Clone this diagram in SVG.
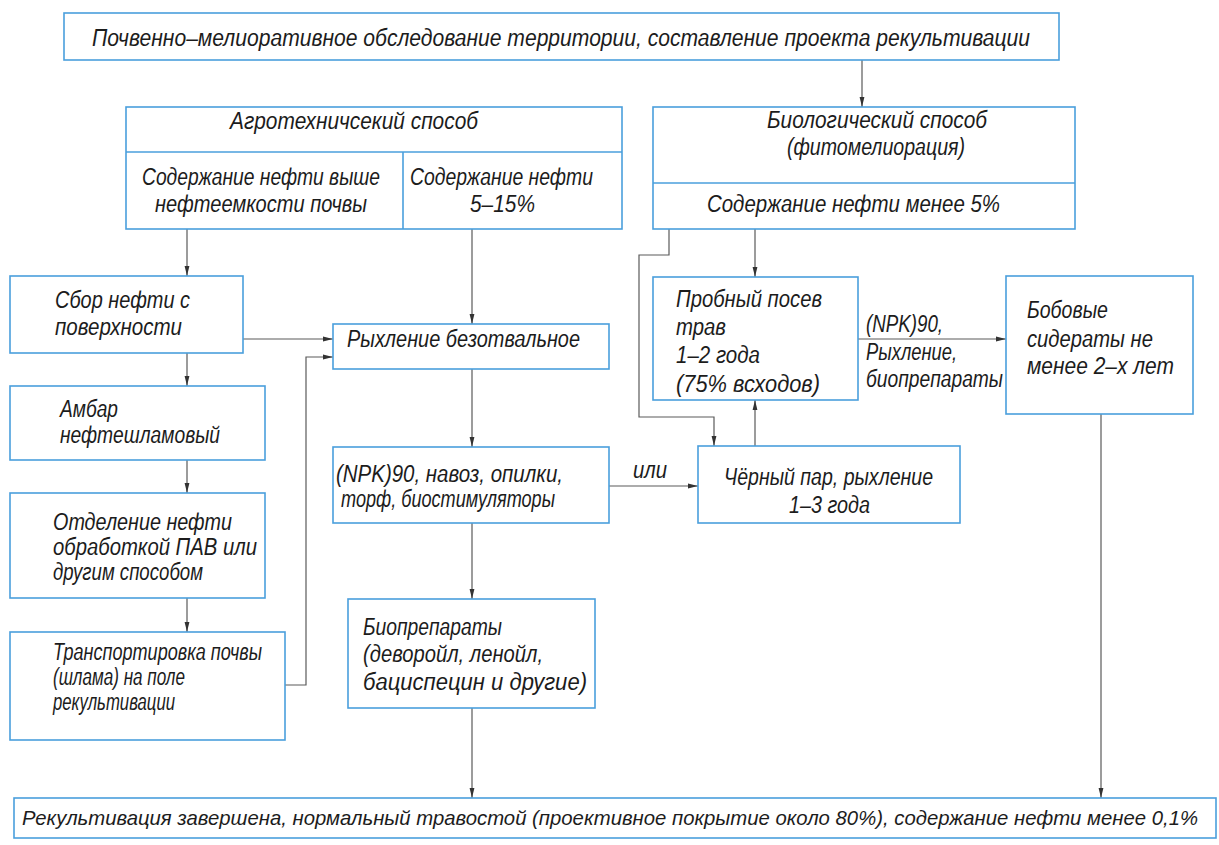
<svg xmlns="http://www.w3.org/2000/svg" width="1219" height="845" viewBox="0 0 1219 845">
<style>
.box{fill:#ffffff;stroke:#4a9fdc;stroke-width:1.6}
.div{stroke:#4a9fdc;stroke-width:1.6;fill:none}
.t{font-family:"Liberation Sans",Arial,sans-serif;font-style:italic;font-size:23px;fill:#1c1c1c}
.s{font-size:21px}
.c{stroke:#5a5a5a;stroke-width:1.2;fill:none}
.a{marker-end:url(#arr)}
</style>
<defs>
<marker id="arr" viewBox="0 0 10 6" refX="10" refY="3" markerWidth="10" markerHeight="6" markerUnits="userSpaceOnUse" orient="auto">
<path d="M0,0.6 L10,3 L0,5.4 Z" fill="#333"/>
</marker>
</defs>
<rect width="1219" height="845" fill="#ffffff"/>

<g id="connectors">
<line class="c a" x1="862" y1="60" x2="862" y2="107"/>
<line class="c a" x1="187" y1="229" x2="187" y2="276"/>
<line class="c a" x1="472" y1="229" x2="472" y2="324"/>
<line class="c a" x1="243" y1="339" x2="333" y2="339"/>
<line class="c a" x1="187" y1="353" x2="187" y2="386"/>
<line class="c a" x1="187" y1="460" x2="187" y2="493"/>
<line class="c a" x1="187" y1="598" x2="187" y2="632"/>
<polyline class="c a" points="285,685 306,685 306,357 333,357"/>
<line class="c a" x1="472" y1="369" x2="472" y2="447"/>
<line class="c a" x1="609" y1="486" x2="698" y2="486"/>
<line class="c a" x1="472" y1="523" x2="472" y2="599"/>
<line class="c a" x1="472" y1="708" x2="472" y2="798"/>
<line class="c a" x1="755" y1="229" x2="755" y2="277"/>
<polyline class="c a" points="669,229 669,255 639,255 639,417 714,417 714,446"/>
<line class="c a" x1="755" y1="446" x2="755" y2="400"/>
<line class="c a" x1="858" y1="339" x2="1006" y2="339"/>
<line class="c a" x1="1101" y1="414" x2="1101" y2="798"/>
<text class="t" x="633" y="478" textLength="34" lengthAdjust="spacingAndGlyphs">или</text>
<text class="t" x="866" y="332" textLength="77" lengthAdjust="spacingAndGlyphs">(NPK)90,</text>
<text class="t" x="866" y="360" textLength="91" lengthAdjust="spacingAndGlyphs">Рыхление,</text>
<text class="t" x="866" y="387" textLength="137" lengthAdjust="spacingAndGlyphs">биопрепараты</text>
</g>

<g id="top">
<rect class="box" x="64" y="13" width="995" height="47"/>
<text class="t" x="92" y="46" textLength="938" lengthAdjust="spacingAndGlyphs">Почвенно–мелиоративное обследование территории, составление проекта рекультивации</text>
</g>

<g id="agro">
<rect class="box" x="126" y="107" width="496" height="122"/>
<line class="div" x1="126" y1="152" x2="622" y2="152"/>
<line class="div" x1="403" y1="152" x2="403" y2="229"/>
<text class="t" x="230" y="129" textLength="248" lengthAdjust="spacingAndGlyphs">Агротехничсекий способ</text>
<text class="t" x="142" y="185" textLength="238" lengthAdjust="spacingAndGlyphs">Содержание нефти выше</text>
<text class="t" x="155" y="212" textLength="212" lengthAdjust="spacingAndGlyphs">нефтеемкости почвы</text>
<text class="t" x="410" y="185" textLength="183" lengthAdjust="spacingAndGlyphs">Содержание нефти</text>
<text class="t" x="470" y="212" textLength="65" lengthAdjust="spacingAndGlyphs">5–15%</text>
</g>

<g id="bio">
<rect class="box" x="653" y="107" width="422" height="122"/>
<line class="div" x1="653" y1="183" x2="1075" y2="183"/>
<text class="t" x="767" y="128" textLength="220" lengthAdjust="spacingAndGlyphs">Биологический способ</text>
<text class="t" x="787" y="155" textLength="178" lengthAdjust="spacingAndGlyphs">(фитомелиорация)</text>
<text class="t" x="707" y="212" textLength="293" lengthAdjust="spacingAndGlyphs">Содержание нефти менее 5%</text>
</g>

<g id="sbor">
<rect class="box" x="10" y="276" width="233" height="77"/>
<text class="t" x="55" y="308" textLength="135" lengthAdjust="spacingAndGlyphs">Сбор нефти с</text>
<text class="t" x="55" y="335" textLength="127" lengthAdjust="spacingAndGlyphs">поверхности</text>
</g>

<g id="ambar">
<rect class="box" x="10" y="386" width="255" height="74"/>
<text class="t" x="60" y="417" textLength="58" lengthAdjust="spacingAndGlyphs">Амбар</text>
<text class="t" x="60" y="443" textLength="160" lengthAdjust="spacingAndGlyphs">нефтешламовый</text>
</g>

<g id="otdelenie">
<rect class="box" x="10" y="493" width="255" height="105"/>
<text class="t" x="53" y="530" textLength="179" lengthAdjust="spacingAndGlyphs">Отделение нефти</text>
<text class="t" x="53" y="555" textLength="204" lengthAdjust="spacingAndGlyphs">обработкой ПАВ или</text>
<text class="t" x="53" y="580" textLength="150" lengthAdjust="spacingAndGlyphs">другим способом</text>
</g>

<g id="transport">
<rect class="box" x="10" y="632" width="275" height="108"/>
<text class="t" x="53" y="660" textLength="209" lengthAdjust="spacingAndGlyphs">Транспортировка почвы</text>
<text class="t" x="53" y="685" textLength="132" lengthAdjust="spacingAndGlyphs">(шлама) на поле</text>
<text class="t" x="53" y="710" textLength="122" lengthAdjust="spacingAndGlyphs">рекультивации</text>
</g>

<g id="ryhlenie">
<rect class="box" x="333" y="324" width="276" height="45"/>
<text class="t" x="347" y="347" textLength="233" lengthAdjust="spacingAndGlyphs">Рыхление безотвальное</text>
</g>

<g id="npk">
<rect class="box" x="333" y="447" width="276" height="76"/>
<text class="t" x="336" y="482" textLength="227" lengthAdjust="spacingAndGlyphs">(NPK)90, навоз, опилки,</text>
<text class="t" x="341" y="507" textLength="214" lengthAdjust="spacingAndGlyphs">торф, биостимуляторы</text>
</g>

<g id="biopreparaty">
<rect class="box" x="348" y="599" width="247" height="109"/>
<text class="t" x="363" y="635" textLength="139" lengthAdjust="spacingAndGlyphs">Биопрепараты</text>
<text class="t" x="363" y="662" textLength="180" lengthAdjust="spacingAndGlyphs">(деворойл, ленойл,</text>
<text class="t" x="363" y="690" textLength="224" lengthAdjust="spacingAndGlyphs">бациспецин и другие)</text>
</g>

<g id="probny">
<rect class="box" x="653" y="277" width="205" height="123"/>
<text class="t" x="676" y="307" textLength="146" lengthAdjust="spacingAndGlyphs">Пробный посев</text>
<text class="t" x="676" y="335" textLength="50" lengthAdjust="spacingAndGlyphs">трав</text>
<text class="t" x="676" y="363" textLength="84" lengthAdjust="spacingAndGlyphs">1–2 года</text>
<text class="t" x="676" y="392" textLength="144" lengthAdjust="spacingAndGlyphs">(75% всходов)</text>
</g>

<g id="cherny">
<rect class="box" x="698" y="446" width="262" height="77"/>
<text class="t" x="724" y="485" textLength="209" lengthAdjust="spacingAndGlyphs">Чёрный пар, рыхление</text>
<text class="t" x="789" y="513" textLength="81" lengthAdjust="spacingAndGlyphs">1–3 года</text>
</g>

<g id="bobovye">
<rect class="box" x="1006" y="276" width="187" height="138"/>
<text class="t" x="1027" y="318" textLength="81" lengthAdjust="spacingAndGlyphs">Бобовые</text>
<text class="t" x="1027" y="347" textLength="126" lengthAdjust="spacingAndGlyphs">сидераты не</text>
<text class="t" x="1027" y="374" textLength="147" lengthAdjust="spacingAndGlyphs">менее 2–х лет</text>
</g>

<g id="bottom">
<rect class="box" x="14" y="798" width="1202" height="40"/>
<text class="t s" x="22" y="825" textLength="1176" lengthAdjust="spacingAndGlyphs">Рекультивация завершена, нормальный травостой (проективное покрытие около 80%), содержание нефти менее 0,1%</text>
</g>
</svg>
